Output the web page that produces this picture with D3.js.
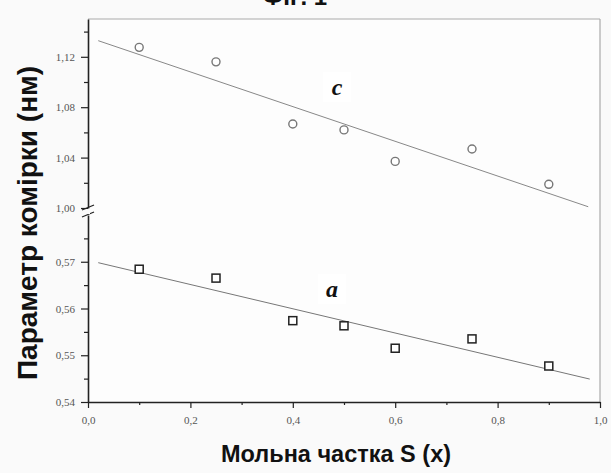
<!DOCTYPE html>
<html><head><meta charset="utf-8">
<script src="https://cdn.jsdelivr.net/npm/d3@7"></script>
<style>html,body{margin:0;padding:0;background:#fafafa;}svg{display:block;}</style>
</head><body>
<svg id="chart" width="611" height="473"></svg>
<script>
// ---- data ----
const xValues = [0.1, 0.25, 0.4, 0.5, 0.6, 0.75, 0.9];
const cValues = [1.1275, 1.116, 1.0667, 1.062, 1.037, 1.0468, 1.0188];
const aValues = [0.5684, 0.5665, 0.5574, 0.5563, 0.5515, 0.5535, 0.5477];
const fitCx = [0.02, 0.977];
const fitCy = [1.1328, 1.001];
const fitAx = [0.02, 0.98];
const fitAy = [0.5698, 0.5449];
const xTicks = [0, 0.2, 0.4, 0.6, 0.8, 1.0];
const xMinor = [0.1, 0.3, 0.5, 0.7, 0.9];
const yUpTicks = [1.00, 1.04, 1.08, 1.12];
const yUpMinor = [1.02, 1.06, 1.10, 1.14];
const yLowTicks = [0.54, 0.55, 0.56, 0.57];
const yLowMinor = [0.545, 0.555, 0.565, 0.575];
const xTitle = "Мольна частка S (x)";
const yTitle = "Параметр комірки (нм)";
const topTitle = "ФІГ. 1";

const svg = d3.select("#chart");
const L = 88, R = 600, T = 19, B = 402, BRK_UP = 208, BRK_LOW = 215;
const x = d3.scaleLinear().domain([0, 1]).range([L, R]);
const yUp = d3.scaleLinear().domain([1.00, 1.15]).range([BRK_UP, T]);
const yLow = d3.scaleLinear().domain([0.54, 0.58]).range([B, BRK_LOW]);
const fmt = d => d3.format(".2f")(d).replace(".", ",");
const fmtX = d => d3.format(".1f")(d).replace(".", ",");

// partially cut title at top (as in the reference)
svg.append("text").attr("x", 295).attr("y", 5).attr("text-anchor", "middle")
  .attr("font-family", "Liberation Sans, Arial, sans-serif").attr("font-weight", "bold")
  .attr("font-size", 24).attr("fill", "#111").text(topTitle);

// plot area
svg.append("rect").attr("x", L).attr("y", T).attr("width", R - L).attr("height", B - T)
  .attr("fill", "#fdfdfd");
// frame top/right
svg.append("line").attr("x1", L).attr("x2", R).attr("y1", T).attr("y2", T).attr("stroke", "#aaa").attr("stroke-width", 1.2);
svg.append("line").attr("x1", R).attr("x2", R).attr("y1", T).attr("y2", B).attr("stroke", "#aaa").attr("stroke-width", 1.2);

const tickFont = "Liberation Serif, Times New Roman, serif";
function styleAxis(g) {
  g.selectAll("path.domain").attr("stroke", "#222").attr("stroke-width", 1.6);
  g.selectAll(".tick line").attr("stroke", "#222").attr("stroke-width", 1.2);
  g.selectAll(".tick text").attr("font-family", tickFont).attr("font-size", 11).attr("fill", "#555");
}
// x axis
const gx = svg.append("g").attr("transform", `translate(0,${B})`)
  .call(d3.axisBottom(x).tickValues(xTicks).tickFormat(fmtX).tickSize(6).tickPadding(8).tickSizeOuter(0));
styleAxis(gx);
const gxm = svg.append("g").attr("transform", `translate(0,${B})`)
  .call(d3.axisBottom(x).tickValues(xMinor).tickFormat("").tickSize(3).tickSizeOuter(0));
styleAxis(gxm); gxm.select("path.domain").remove();

// y axes
const gyU = svg.append("g").attr("transform", `translate(${L},0)`)
  .call(d3.axisLeft(yUp).tickValues(yUpTicks).tickFormat(fmt).tickSize(7).tickPadding(6).tickSizeOuter(0));
styleAxis(gyU);
const gyUm = svg.append("g").attr("transform", `translate(${L},0)`)
  .call(d3.axisLeft(yUp).tickValues(yUpMinor).tickFormat("").tickSize(4).tickSizeOuter(0));
styleAxis(gyUm); gyUm.select("path.domain").remove();
const gyL = svg.append("g").attr("transform", `translate(${L},0)`)
  .call(d3.axisLeft(yLow).tickValues(yLowTicks).tickFormat(fmt).tickSize(7).tickPadding(6).tickSizeOuter(0));
styleAxis(gyL);
const gyLm = svg.append("g").attr("transform", `translate(${L},0)`)
  .call(d3.axisLeft(yLow).tickValues(yLowMinor).tickFormat("").tickSize(4).tickSizeOuter(0));
styleAxis(gyLm); gyLm.select("path.domain").remove();

// break marks
const brk = svg.append("g").attr("stroke", "#222").attr("stroke-width", 1.3);
[BRK_UP, BRK_LOW].forEach(yy => {
  brk.append("line").attr("x1", L - 6).attr("x2", L + 6).attr("y1", yy + 2).attr("y2", yy - 3);
});
svg.append("rect").attr("x", L - 2).attr("y", BRK_UP + 1).attr("width", 4).attr("height", BRK_LOW - BRK_UP - 2).attr("fill", "#fafafa");

// fit lines
svg.append("line").attr("x1", x(fitCx[0])).attr("y1", yUp(fitCy[0])).attr("x2", x(fitCx[1])).attr("y2", yUp(fitCy[1]))
  .attr("stroke", "#888").attr("stroke-width", 1);
svg.append("line").attr("x1", x(fitAx[0])).attr("y1", yLow(fitAy[0])).attr("x2", x(fitAx[1])).attr("y2", yLow(fitAy[1]))
  .attr("stroke", "#777").attr("stroke-width", 1);

// markers c (circles)
svg.append("g").selectAll("circle").data(xValues.map((v, i) => [v, cValues[i]])).join("circle")
  .attr("cx", d => x(d[0])).attr("cy", d => yUp(d[1])).attr("r", 4)
  .attr("fill", "#fff").attr("stroke", "#777").attr("stroke-width", 1.4);
// markers a (squares)
svg.append("g").selectAll("rect").data(xValues.map((v, i) => [v, aValues[i]])).join("rect")
  .attr("x", d => x(d[0]) - 4).attr("y", d => yLow(d[1]) - 4).attr("width", 8).attr("height", 8)
  .attr("fill", "#fff").attr("stroke", "#222").attr("stroke-width", 1.5);

// series labels
function seriesLabel(cx, cy, t) {
  svg.append("rect").attr("x", cx - 14).attr("y", cy - 16).attr("width", 28).attr("height", 30).attr("fill", "#fff");
  svg.append("text").attr("x", cx).attr("y", cy + 7).attr("text-anchor", "middle")
    .attr("font-family", tickFont).attr("font-style", "italic").attr("font-weight", "bold")
    .attr("font-size", 24).attr("fill", "#111").text(t);
}
seriesLabel(337, 88, "c");
seriesLabel(332, 290, "a");

// axis titles
svg.append("text").attr("x", 336).attr("y", 462).attr("text-anchor", "middle")
  .attr("font-family", "Liberation Sans, Arial, sans-serif").attr("font-weight", "bold")
  .attr("font-size", 23.5).attr("fill", "#111").text(xTitle);
svg.append("text").attr("transform", "translate(37,223) rotate(-90)").attr("text-anchor", "middle")
  .attr("font-family", "Liberation Sans, Arial, sans-serif").attr("font-weight", "bold")
  .attr("font-size", 28).attr("fill", "#111").text(yTitle);
</script>
</body></html>
